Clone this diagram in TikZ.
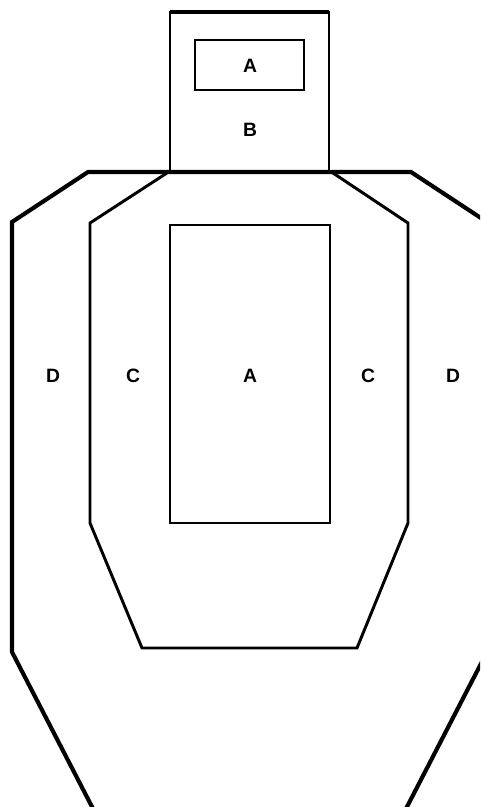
\documentclass[tikz,border=0pt]{standalone}
\usepackage{fontspec}
\setmainfont{Liberation Sans}
\begin{document}
\begin{tikzpicture}[x=0.75pt,y=-0.75pt,
  outer/.style={draw=black,line width=3.1pt,line join=miter},
  inner/.style={draw=black,line width=2.2pt,line join=miter},
  lbl/.style={font=\fontsize{14.5}{14.5}\selectfont\bfseries,inner sep=0pt}]
\useasboundingbox (0,0) rectangle (480,807);
\clip (0,0) rectangle (480,807);
% D outline
\draw[outer] (104,830) -- (12,652) -- (12,222) -- (88,172) -- (411,172) -- (487,222) -- (487,652) -- (395,830);
% C outline
\draw[inner] (170,171) -- (90,223) -- (90,523) -- (142,648) -- (357,648) -- (408,523) -- (408,223) -- (330,171);
% head
\draw[inner] (170,171) -- (170,12) -- (329,12) -- (329,171);
\draw[inner,line width=2.7pt] (170,12) -- (329,12);
\draw[inner] (195,40) rectangle (304,90);
% A body
\draw[inner] (170,225) rectangle (330,523);
% labels
\node[lbl] (ha) at (250,66) {A};
\node[lbl] (hb) at (250,130) {B};
\node[lbl] (dl) at (53,376) {D};
\node[lbl] (cl) at (133,376) {C};
\node[lbl] (ab) at (250,376) {A};
\node[lbl] (cr) at (368,376) {C};
\node[lbl] (dr) at (453,376) {D};
\end{tikzpicture}
\end{document}
